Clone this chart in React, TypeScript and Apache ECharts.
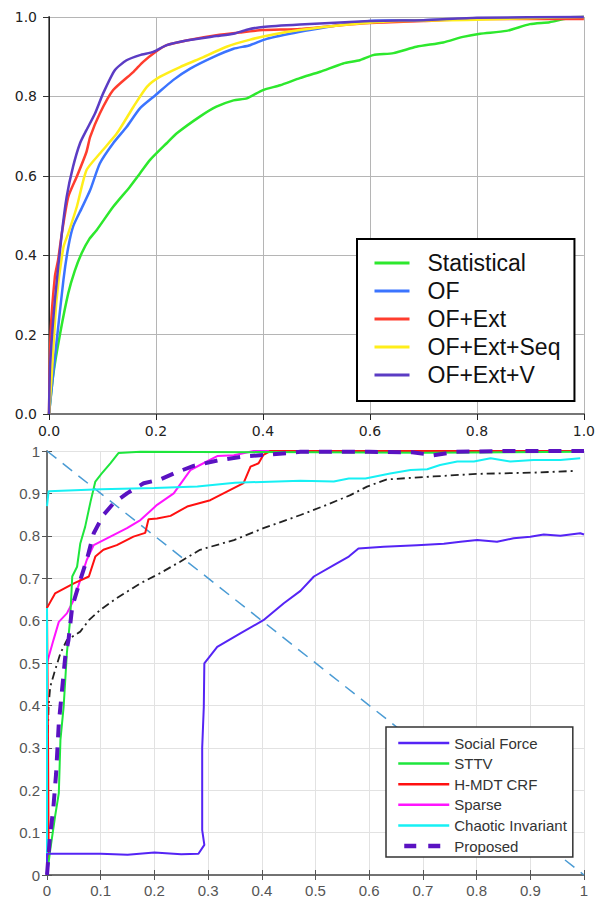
import React, { useEffect, useRef } from "react";
import * as echarts from "echarts";

// ---------- Top chart (ROC curves) ----------
const topTickLabels = ["0.0", "0.2", "0.4", "0.6", "0.8", "1.0"];

const statistical: [number, number][] = [
  [0, 0], [0.008, 0.1], [0.021, 0.204], [0.036, 0.304], [0.048, 0.36], [0.061, 0.405], [0.075, 0.44],
  [0.089, 0.463], [0.12, 0.522], [0.151, 0.572], [0.17, 0.606], [0.189, 0.64], [0.22, 0.682],
  [0.239, 0.707], [0.282, 0.749], [0.313, 0.774], [0.345, 0.79], [0.37, 0.795], [0.4, 0.816],
  [0.432, 0.828], [0.469, 0.846], [0.507, 0.862], [0.55, 0.883], [0.581, 0.891], [0.606, 0.904],
  [0.644, 0.909], [0.687, 0.925], [0.737, 0.936], [0.774, 0.95], [0.806, 0.958], [0.855, 0.965],
  [0.899, 0.982], [0.936, 0.987], [0.968, 0.996], [1, 1],
];
const of: [number, number][] = [
  [0, 0], [0.007, 0.09], [0.014, 0.179], [0.027, 0.338], [0.036, 0.42], [0.045, 0.472], [0.061, 0.518],
  [0.077, 0.564], [0.095, 0.631], [0.12, 0.682], [0.145, 0.723], [0.17, 0.77], [0.199, 0.803],
  [0.232, 0.841], [0.264, 0.87], [0.307, 0.899], [0.345, 0.92], [0.376, 0.929], [0.407, 0.945],
  [0.469, 0.963], [0.52, 0.975], [0.56, 0.983], [0.6, 0.99], [0.7, 0.992], [0.8, 0.995], [0.9, 0.998], [1, 1],
];
const ofExt: [number, number][] = [
  [0, 0], [0.003, 0.204], [0.011, 0.346], [0.017, 0.388], [0.024, 0.455], [0.036, 0.547], [0.052, 0.598],
  [0.07, 0.66], [0.077, 0.698], [0.095, 0.757], [0.12, 0.816], [0.158, 0.862], [0.176, 0.887],
  [0.199, 0.912], [0.22, 0.929], [0.257, 0.941], [0.313, 0.954], [0.357, 0.961], [0.4, 0.967],
  [0.469, 0.97], [0.55, 0.98], [0.6, 0.985], [0.7, 0.99], [0.8, 0.995], [0.9, 0.995], [1, 0.995],
];
const ofExtSeq: [number, number][] = [
  [0, 0], [0.005, 0.095], [0.014, 0.287], [0.027, 0.42], [0.036, 0.455], [0.052, 0.522], [0.07, 0.614],
  [0.095, 0.656], [0.127, 0.707], [0.158, 0.774], [0.183, 0.824], [0.207, 0.849], [0.245, 0.874],
  [0.282, 0.895], [0.332, 0.925], [0.376, 0.943], [0.419, 0.956], [0.469, 0.967], [0.55, 0.98],
  [0.65, 0.99], [0.8, 0.993], [0.9, 0.997], [1, 1],
];
const ofExtV: [number, number][] = [
  [0, 0], [0.002, 0.12], [0.011, 0.287], [0.024, 0.455], [0.033, 0.547], [0.045, 0.623], [0.058, 0.682],
  [0.07, 0.715], [0.086, 0.757], [0.101, 0.807], [0.123, 0.866], [0.145, 0.891], [0.17, 0.904],
  [0.195, 0.912], [0.22, 0.929], [0.257, 0.941], [0.313, 0.952], [0.345, 0.958], [0.37, 0.968],
  [0.4, 0.975], [0.469, 0.981], [0.6, 0.99], [0.7, 0.992], [0.8, 0.998], [1, 1],
];
const topNames = ["Statistical", "OF", "OF+Ext", "OF+Ext+Seq", "OF+Ext+V"];
const topColors = ["#2de82d", "#3b74ff", "#ff3d2e", "#ffee1a", "#5b3cc4"];
const topData = [statistical, of, ofExt, ofExtSeq, ofExtV];

// ---------- Bottom chart ----------
const bottomTickLabels = ["0", "0.1", "0.2", "0.3", "0.4", "0.5", "0.6", "0.7", "0.8", "0.9", "1"];

const socialForce: [number, number][] = [
  [0, 0], [0, 0.05], [0.1, 0.05], [0.15, 0.048], [0.2, 0.053], [0.25, 0.049], [0.282, 0.05],
  [0.293, 0.071], [0.289, 0.106], [0.289, 0.3], [0.292, 0.397], [0.293, 0.499], [0.317, 0.538],
  [0.36, 0.57], [0.403, 0.601], [0.441, 0.641], [0.472, 0.67], [0.497, 0.704], [0.534, 0.731],
  [0.562, 0.751], [0.58, 0.77], [0.627, 0.774], [0.689, 0.778], [0.739, 0.781], [0.77, 0.786],
  [0.801, 0.79], [0.838, 0.786], [0.869, 0.794], [0.9, 0.798], [0.925, 0.803], [0.956, 0.8],
  [0.993, 0.806], [1, 0.803],
];
const sttv: [number, number][] = [
  [0, 0], [0.006, 0.059], [0.015, 0.138], [0.022, 0.193], [0.025, 0.318], [0.031, 0.397], [0.037, 0.523],
  [0.043, 0.601], [0.047, 0.704], [0.056, 0.727], [0.062, 0.782], [0.071, 0.821], [0.081, 0.88],
  [0.09, 0.928], [0.102, 0.947], [0.118, 0.971], [0.133, 0.995], [0.174, 0.998], [0.5, 0.997],
  [0.7, 0.996], [1, 0.998],
];
const hmdtCrf: [number, number][] = [
  [0, 0], [0.003, 0.05], [0.002, 0.3], [0, 0.63], [0.015, 0.664], [0.05, 0.688], [0.078, 0.704],
  [0.09, 0.751], [0.105, 0.767], [0.13, 0.778], [0.161, 0.798], [0.183, 0.807], [0.189, 0.839],
  [0.205, 0.841], [0.23, 0.847], [0.261, 0.869], [0.304, 0.884], [0.335, 0.904], [0.366, 0.924],
  [0.379, 0.963], [0.394, 0.971], [0.403, 0.991], [0.416, 1], [1, 1],
];
const sparse: [number, number][] = [
  [0, 0], [0, 0.5], [0.012, 0.554], [0.022, 0.597], [0.037, 0.617], [0.05, 0.649], [0.062, 0.696],
  [0.074, 0.743], [0.087, 0.778], [0.118, 0.798], [0.149, 0.818], [0.174, 0.837], [0.205, 0.873],
  [0.236, 0.9], [0.267, 0.955], [0.285, 0.967], [0.317, 0.988], [0.348, 0.99], [0.385, 1], [1, 1],
];
// the part hidden under the y axis (0.63 → 0.87) is left out, as in the picture
const chaotic: any[] = [
  [0, 0.05], [0, 0.63], [0, null], [0, 0.87], [0.003, 0.905], [0.1, 0.91], [0.2, 0.913], [0.28, 0.916],
  [0.35, 0.925], [0.472, 0.93], [0.534, 0.928], [0.562, 0.935], [0.593, 0.935], [0.639, 0.947],
  [0.677, 0.955], [0.708, 0.957], [0.732, 0.967], [0.764, 0.975], [0.795, 0.975], [0.826, 0.983],
  [0.863, 0.975], [0.906, 0.979], [0.956, 0.979], [0.993, 0.983],
];
const proposed: [number, number][] = [
  [0, 0], [0.005, 0.083], [0.012, 0.161], [0.017, 0.24], [0.022, 0.358], [0.028, 0.436], [0.034, 0.515],
  [0.04, 0.554], [0.047, 0.633], [0.062, 0.696], [0.074, 0.743], [0.087, 0.806], [0.105, 0.849],
  [0.124, 0.877], [0.149, 0.9], [0.18, 0.924], [0.211, 0.933], [0.236, 0.947], [0.273, 0.965],
  [0.323, 0.979], [0.366, 0.987], [0.41, 0.991], [0.472, 0.998], [0.6, 0.998], [0.68, 0.997],
  [0.72, 0.99], [0.76, 0.998], [0.85, 1], [1, 1],
];
const baseline: [number, number][] = [
  [0, 0.25], [0.003, 0.4], [0.006, 0.444], [0.015, 0.483], [0.025, 0.523], [0.037, 0.554], [0.062, 0.574],
  [0.078, 0.601], [0.099, 0.625], [0.13, 0.653], [0.174, 0.688], [0.211, 0.712], [0.248, 0.739],
  [0.285, 0.767], [0.348, 0.79], [0.403, 0.818], [0.472, 0.849], [0.521, 0.873], [0.565, 0.896],
  [0.596, 0.916], [0.633, 0.933], [0.72, 0.94], [0.801, 0.946], [0.906, 0.949], [0.981, 0.953],
];
const diagonal: [number, number][] = [[0, 1], [1, 0]];

const bottomNames = ["Social Force", "STTV", "H-MDT CRF", "Sparse", "Chaotic Invariant", "Proposed"];

const sans = "'Liberation Sans', Arial, sans-serif";

export default function App() {
  const ref = useRef<HTMLDivElement>(null);
  useEffect(() => {
    if (!ref.current) return;
    const chart = echarts.init(ref.current, undefined, { renderer: "svg" });

    const topFmt = (v: number) => topTickLabels[Math.round(v / 0.2)] ?? "";
    const botFmt = (v: number) => bottomTickLabels[Math.round(v / 0.1)] ?? "";

    const topSeries = topData.map((d, i) => ({
      name: topNames[i],
      type: "line",
      xAxisIndex: 0,
      yAxisIndex: 0,
      data: d,
      symbol: "none",
      smooth: 0.2,
      clip: false,
      lineStyle: { color: topColors[i], width: 2.5 },
      itemStyle: { color: topColors[i] },
    }));

    const bot = (name: string, data: any[], color: string, width: number, type: any = "solid") => ({
      name,
      type: "line",
      xAxisIndex: 2,
      yAxisIndex: 2,
      data,
      symbol: "none",
      clip: false,
      connectNulls: false,
      lineStyle: { color, width, type },
      itemStyle: { color },
    });

    const option: any = {
      animation: false,
      backgroundColor: "#ffffff",
      grid: [
        { left: 49, top: 17, width: 535, height: 397 },
        { left: 47, top: 451, width: 537, height: 424 },
      ],
      xAxis: [
        {
          type: "value", gridIndex: 0, min: 0, max: 1, interval: 0.2,
          axisLine: { show: true, lineStyle: { color: "#222", width: 1.5 } },
          axisTick: { show: true, length: 6, lineStyle: { color: "#222" } },
          axisLabel: { margin: 10, fontSize: 14, fontFamily: "'DejaVu Sans', sans-serif", color: "#222", formatter: topFmt },
          splitLine: { show: true, lineStyle: { color: "#b5b5b5", width: 1 } },
        },
        {
          type: "value", gridIndex: 0, position: "top", min: 0, max: 1, interval: 0.2,
          axisLine: { show: true, lineStyle: { color: "#767676", width: 2 } },
          axisTick: { show: false }, axisLabel: { show: false }, splitLine: { show: false },
        },
        {
          type: "value", gridIndex: 1, min: 0, max: 1, interval: 0.1,
          axisLine: { show: true, lineStyle: { color: "#6a6a6a", width: 1.5 } },
          axisTick: { show: true, inside: true, length: 5, lineStyle: { color: "#555" } },
          axisLabel: { margin: 8, fontSize: 15, fontFamily: sans, color: "#555", formatter: botFmt },
          splitLine: { show: true, lineStyle: { color: "#e2e2e2", width: 1 } },
        },
        {
          type: "value", gridIndex: 1, position: "top", min: 0, max: 1, interval: 0.1,
          axisLine: { show: true, lineStyle: { color: "#6a6a6a", width: 1.5 } },
          axisTick: { show: true, inside: true, length: 5, lineStyle: { color: "#555" } },
          axisLabel: { show: false }, splitLine: { show: false },
        },
      ],
      yAxis: [
        {
          type: "value", gridIndex: 0, min: 0, max: 1, interval: 0.2,
          axisLine: { show: true, lineStyle: { color: "#767676", width: 2 } },
          axisTick: { show: true, length: 6, lineStyle: { color: "#333" } },
          axisLabel: { margin: 12, fontSize: 14, fontFamily: "'DejaVu Sans', sans-serif", color: "#222", formatter: topFmt },
          splitLine: { show: true, lineStyle: { color: "#b5b5b5", width: 1 } },
        },
        {
          type: "value", gridIndex: 0, position: "right", min: 0, max: 1, interval: 0.2,
          axisLine: { show: true, lineStyle: { color: "#222", width: 1 } },
          axisTick: { show: false }, axisLabel: { show: false }, splitLine: { show: false },
        },
        {
          type: "value", gridIndex: 1, min: 0, max: 1, interval: 0.1,
          axisLine: { show: true, lineStyle: { color: "#6a6a6a", width: 1.5 } },
          axisTick: { show: true, inside: true, length: 5, lineStyle: { color: "#555" } },
          axisLabel: { margin: 7, fontSize: 15, fontFamily: sans, color: "#555", formatter: botFmt },
          splitLine: { show: true, lineStyle: { color: "#e2e2e2", width: 1 } },
        },
        {
          type: "value", gridIndex: 1, position: "right", min: 0, max: 1, interval: 0.1,
          axisLine: { show: true, lineStyle: { color: "#6a6a6a", width: 1.5 } },
          axisTick: { show: true, inside: true, length: 5, lineStyle: { color: "#555" } },
          axisLabel: { show: false }, splitLine: { show: false },
        },
      ],
      legend: [
        {
          data: topNames,
          orient: "vertical",
          left: 357,
          top: 239,
          padding: [12, 14, 14, 16],
          itemWidth: 35,
          itemHeight: 14,
          itemGap: 4,
          itemStyle: { opacity: 0 },
          lineStyle: { width: 3 },
          borderColor: "#000",
          borderWidth: 2,
          backgroundColor: "#fff",
          textStyle: { fontSize: 23, lineHeight: 24, fontFamily: sans, color: "#111", padding: [0, 0, 0, 13] },
        },
        {
          data: bottomNames.map((n) =>
            n === "Proposed"
              ? { name: n, lineStyle: { type: [12, 12], dashOffset: 18, width: 4.5 } }
              : { name: n, lineStyle: { width: 2.5 } }
          ),
          orient: "vertical",
          left: 386,
          top: 727,
          padding: [8, 6, 3, 10],
          itemWidth: 51,
          itemHeight: 12,
          itemGap: 4.6,
          itemStyle: { opacity: 0 },
          borderColor: "#333",
          borderWidth: 1.5,
          backgroundColor: "#fff",
          textStyle: { fontSize: 15, lineHeight: 16, fontFamily: sans, color: "#333" },
        },
      ],
      series: [
        ...topSeries,
        bot("Diagonal", diagonal, "#4a9bd4", 1.5, [12, 8]),
        bot("Baseline", baseline, "#222", 1.8, [8, 4, 2, 4]),
        bot("Sparse", sparse, "#ff14ff", 2),
        bot("H-MDT CRF", hmdtCrf, "#ff1010", 2),
        bot("STTV", sttv, "#1ee63c", 2),
        bot("Chaotic Invariant", chaotic, "#16f0f4", 2),
        bot("Social Force", socialForce, "#5524f5", 2),
        bot("Proposed", proposed, "#5a12c2", 4, [13, 10]),
      ],
    };
    chart.setOption(option);
    return () => chart.dispose();
  }, []);
  return (
    <div
      ref={ref}
      style={{ position: "fixed", left: 0, top: 0, width: 598, height: 899, background: "#fff" }}
    />
  );
}
